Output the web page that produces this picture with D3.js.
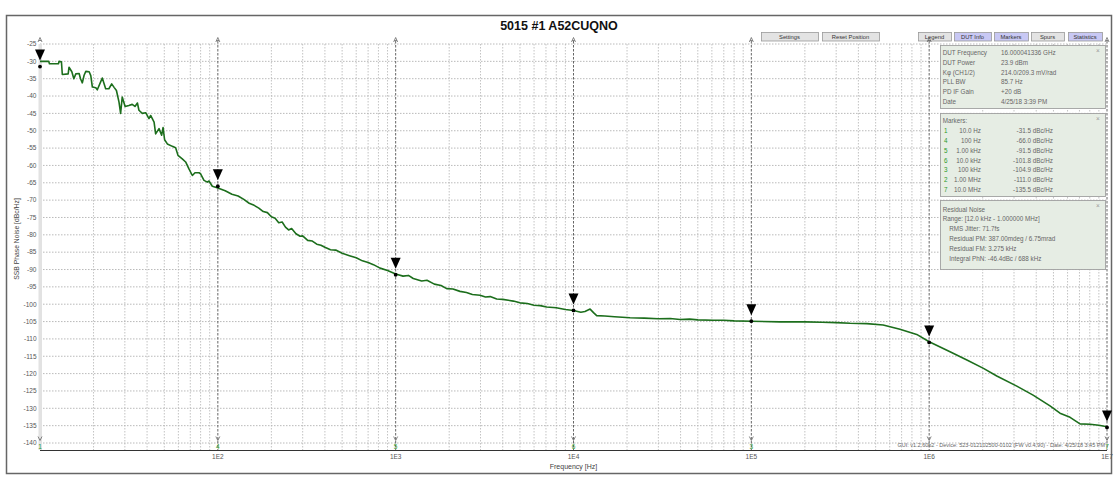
<!DOCTYPE html>
<html><head><meta charset="utf-8">
<script src="https://cdn.jsdelivr.net/npm/d3@7"></script>
<style>body{margin:0;background:#fff}svg text{font-family:"Liberation Sans",Arial,sans-serif}</style>
</head><body><svg id="c" width="1118" height="481"></svg>
<script>
// ---- data ----
const freqs = [10,11.2,11.3,12.7,12.8,13.2,13.35,14.4,14.56,15.1,15.5,15.9,16.6,16.9,17.3,17.7,18.1,18.9,19.3,19.7,20.6,21.0,21.9,22.4,23.4,24.4,25.3,26.1,26.9,27.8,28.4,29.0,30.1,31.6,33.0,34.2,35.3,36.0,37.6,39.3,41.0,41.9,43.8,44.7,46.7,48.3,49.2,50.2,52.0,55.5,57.9,59.7,63.1,65.9,68.8,71.9,74.4,78.4,80.0,83.6,87.3,89.2,93.1,100,
 110,120,130,140,150,160,170,180,190,200,210,220,230,240,250,260,275,290,300,320,340,360,380,400,430,460,500,550,600,650,700,750,817,900,
 1000,1100,1180,1256,1400,1500,1650,1800,1936,2100,2300,2500,2700,2980,3200,3400,3700,4000,4590,5000,5500,6000,6500,7063,8000,9000,10000,11000,11600,12400,13000,13500,15000,17000,20800,25000,30000,35000,39700,45000,50000,61000,70000,80000,100000,145000,200000,250000,300000,359000,
 446000,551000,685000,851000,1000000,1310000,1630000,2020000,2400000,3110000,3840000,4780000,5440000,6200000,7050000,8030000,9000000,10000000];
const noise = [-30.0,-30.0,-30.7,-30.7,-30.0,-30.1,-33.8,-33.6,-31.7,-33.0,-35.0,-33.6,-33.5,-35.0,-36.2,-34.0,-32.9,-33.0,-34.1,-37.4,-37.6,-38.2,-36.0,-34.8,-37.9,-37.9,-36.5,-37.5,-38.4,-41.7,-45.0,-40.3,-43.0,-42.7,-42.4,-43.0,-42.0,-44.1,-45.0,-44.8,-46.5,-45.6,-47.5,-50.9,-49.4,-51.3,-49.1,-52.6,-53.8,-54.5,-54.9,-57.1,-58.1,-59.0,-61.0,-62.9,-62.1,-62.1,-62.4,-64.3,-64.8,-64.5,-66.0,-66.5,
 -67.3,-68.3,-68.8,-69.8,-70.9,-71.5,-72.3,-73.3,-73.6,-74.8,-75.2,-76.5,-76.3,-77.8,-78.6,-78.2,-79.7,-80.4,-80.3,-81.6,-81.8,-82.7,-83.0,-83.6,-84.3,-84.4,-85.3,-86.0,-86.6,-87.5,-88.0,-88.6,-89.6,-90.3,
 -91.3,-91.9,-91.7,-92.6,-93.3,-93.1,-94.2,-94.6,-95.5,-95.6,-96.3,-96.6,-97.2,-97.4,-97.9,-97.8,-98.5,-98.6,-99.1,-99.6,-99.8,-100.3,-100.4,-100.8,-101.0,-101.5,-101.8,-102.3,-102.1,-101.4,-102.5,-103.3,-103.4,-103.6,-103.9,-104.0,-104.2,-104.1,-104.4,-104.3,-104.5,-104.6,-104.6,-104.8,-104.9,-105.1,-105.1,-105.2,-105.3,-105.5,
 -105.6,-106.0,-107.2,-108.7,-110.8,-113.7,-116.1,-118.5,-120.7,-123.6,-126.2,-129.3,-131.4,-132.6,-134.5,-134.6,-134.9,-135.3];

const markerIds = [1,4,5,6,3,2,7];
const markerFreqs = [10,100,1000,10000,100000,1000000,10000000];
const markerFreqLabels = ["10.0 Hz","100 Hz","1.00 kHz","10.0 kHz","100 kHz","1.00 MHz","10.0 MHz"];
const markerVals = [-31.5,-66.0,-91.5,-101.8,-104.9,-111.0,-135.5];

const yTickVals = [-25,-30,-35,-40,-45,-50,-55,-60,-65,-70,-75,-80,-85,-90,-95,-100,-105,-110,-115,-120,-125,-130,-135,-140];
const xTickVals = [100,1000,10000,100000,1000000,10000000];
const xTickLabels = ["1E2","1E3","1E4","1E5","1E6","1E7"];

const dutLabels = ["DUT Frequency","DUT Power","K\u03c6 (CH1/2)","PLL BW","PD IF Gain","Date"];
const dutValues = ["16.000041336 GHz","23.9 dBm","214.0/209.3 mV/rad","85.7 Hz","+20 dB","4/25/18 3:39 PM"];
const residualLines = ["Residual Noise","Range: [12.0 kHz - 1.000000 MHz]","RMS Jitter: 71.7fs","Residual PM: 387.00mdeg / 6.75mrad","Residual FM: 3.275 kHz","Integral PhN: -46.4dBc / 688 kHz"];
const buttonLabels = ["Settings","Reset Position","Legend","DUT Info","Markers","Spurs","Statistics"];
const buttonActive = [false,false,false,true,true,false,true];

// ---- drawing ----
const svg = d3.select("#c");
const x = d3.scaleLog().domain([10,1e7]).range([40,1107]);
const y = d3.scaleLinear().domain([-140,-25]).range([443,44]);
const plotTop = 44, plotBot = 450;

svg.append("rect").attr("x",6.5).attr("y",15.5).attr("width",1105).attr("height",458)
  .attr("fill","#fff").attr("stroke","#666").attr("stroke-width",1.5);

svg.append("text").attr("x",559).attr("y",29.5).attr("text-anchor","middle")
  .attr("font-weight","bold").attr("font-size",12.5).attr("fill","#111").text("5015 #1 A52CUQNO");

// buttons
const btnX = [[761,818],[822,879],[918,951],[954,991],[994,1028],[1031,1064],[1068,1102]];
buttonLabels.forEach((b,i)=>{
  const [a,c]=btnX[i];
  svg.append("rect").attr("x",a+0.5).attr("y",32.5).attr("width",c-a).attr("height",8.5)
    .attr("fill",buttonActive[i]?"#c8c8f4":"#e3e3e3").attr("stroke","#999").attr("stroke-width",0.8);
  svg.append("text").attr("x",(a+c)/2).attr("y",39.2).attr("text-anchor","middle")
    .attr("font-size",5.8).attr("fill","#333").text(b);
});

// horizontal grid
svg.append("g").selectAll("line").data(yTickVals).join("line")
  .attr("x1",40).attr("x2",1107).attr("y1",d=>y(d)).attr("y2",d=>y(d))
  .attr("stroke","#a8a8a8").attr("stroke-width",0.8).attr("stroke-dasharray","1.5,1.5");

// vertical minor grid
const minor=[];
for(let d=1;d<7;d++) for(let m=2;m<10;m++) minor.push(m*Math.pow(10,d));
svg.append("g").selectAll("line").data(minor).join("line")
  .attr("x1",d=>x(d)).attr("x2",d=>x(d)).attr("y1",plotTop).attr("y2",plotBot)
  .attr("stroke","#b4b4b4").attr("stroke-width",0.8).attr("stroke-dasharray","1.5,1.5");

// left axis band
svg.append("rect").attr("x",38.5).attr("y",plotTop).attr("width",3.5).attr("height",plotBot-plotTop).attr("fill","#e2e2e2");

// marker vertical lines
svg.append("g").selectAll("line").data(markerFreqs.slice(1)).join("line")
  .attr("x1",d=>x(d)).attr("x2",d=>x(d)).attr("y1",41).attr("y2",plotBot)
  .attr("stroke","#555").attr("stroke-width",0.9).attr("stroke-dasharray","2.5,1.5");

// top carets & bottom carets + ids (id at 1 MHz is hidden under the footer in the reference)
markerFreqs.forEach((f,i)=>{
  const cx=x(f);
  svg.append("path").attr("d",`M${cx-2},${42}L${cx},${37.5}L${cx+2},${42}M${cx-1.2},${40.5}L${cx+1.2},${40.5}`)
    .attr("fill","none").attr("stroke","#555").attr("stroke-width",0.7);
  svg.append("path").attr("d",`M${cx-2},${436.5}L${cx},${440.5}L${cx+2},${436.5}`)
    .attr("fill","none").attr("stroke","#555").attr("stroke-width",0.7);
  if (f !== 1000000)
    svg.append("text").attr("x",cx).attr("y",449).attr("text-anchor","middle")
      .attr("font-size",6.5).attr("fill","#2a9a2a").text(markerIds[i]);
});

// axis line
svg.append("line").attr("x1",40).attr("x2",1107).attr("y1",plotBot+0.5).attr("y2",plotBot+0.5).attr("stroke","#333").attr("stroke-width",1);

// tick labels
svg.append("g").selectAll("text").data(yTickVals).join("text")
  .attr("x",36.5).attr("y",d=>y(d)+2.3).attr("text-anchor","end")
  .attr("font-size",6.5).attr("fill","#555").text(d=>d);
svg.append("g").selectAll("text").data(xTickVals).join("text")
  .attr("x",d=>x(d)).attr("y",459).attr("text-anchor","middle")
  .attr("font-size",6.5).attr("fill","#555").text((d,i)=>xTickLabels[i]);

svg.append("text").attr("x",573.5).attr("y",469).attr("text-anchor","middle")
  .attr("font-size",7).attr("fill","#444").text("Frequency [Hz]");
svg.append("text").attr("transform","translate(18.5,239) rotate(-90)").attr("text-anchor","middle")
  .attr("font-size",6.8).attr("fill","#444").text("SSB Phase Noise [dBc/Hz]");

// footer
svg.append("text").attr("x",1105).attr("y",447).attr("text-anchor","end")
  .attr("font-size",5.5).attr("fill","#666")
  .text("GUI: v1.2.60b2 - Device: 523-012102500-0102 (FW v0.4.90) - Date: 4/25/18 3:45 PM");

// curve
const pts = freqs.map((f,i)=>[f,noise[i]]);
svg.append("path").datum(pts)
  .attr("d",d3.line().x(d=>x(d[0])).y(d=>y(d[1])))
  .attr("fill","none").attr("stroke","#1c6e1c").attr("stroke-width",1.6).attr("stroke-linejoin","round");

// markers
markerFreqs.forEach((f,i)=>{
  const cx=x(f), cy=y(markerVals[i]);
  svg.append("path").attr("d",`M${cx-5},${cy-17}L${cx+5},${cy-17}L${cx},${cy-6}Z`).attr("fill","#000");
  svg.append("circle").attr("cx",cx).attr("cy",cy).attr("r",1.9).attr("fill","#000");
});

// panels
function panel(y0,h){
  svg.append("rect").attr("x",940.5).attr("y",y0+0.5).attr("width",165).attr("height",h)
    .attr("fill","#e6ede4").attr("stroke","#a0a0a0").attr("stroke-width",0.9);
  svg.append("text").attr("x",1098).attr("y",y0+8).attr("text-anchor","middle")
    .attr("font-size",6.5).attr("fill","#999").text("\u00d7");
}
const fs=6.3, tc="#666";
panel(45,63);
dutLabels.forEach((l,i)=>{
  const yy=55+i*9.8;
  svg.append("text").attr("x",942.7).attr("y",yy).attr("font-size",fs).attr("fill",tc).text(l);
  svg.append("text").attr("x",1001).attr("y",yy).attr("font-size",fs).attr("fill",tc).text(dutValues[i]);
});
panel(113,83);
svg.append("text").attr("x",942.7).attr("y",123.3).attr("font-size",fs).attr("fill",tc).text("Markers:");
markerIds.forEach((id,i)=>{
  const yy=133+i*9.85;
  svg.append("text").attr("x",944).attr("y",yy).attr("font-size",fs).attr("fill","#2a9a2a").text(id);
  svg.append("text").attr("x",981).attr("y",yy).attr("text-anchor","end").attr("font-size",fs).attr("fill",tc).text(markerFreqLabels[i]);
  svg.append("text").attr("x",1053).attr("y",yy).attr("text-anchor","end").attr("font-size",fs).attr("fill",tc).text(markerVals[i].toFixed(1)+" dBc/Hz");
});
panel(200,69);
residualLines.forEach((l,i)=>{
  svg.append("text").attr("x",i<2?942.7:949.3).attr("y",211.5+i*9.8).attr("font-size",fs).attr("fill",tc).text(l);
});
</script></body></html>
